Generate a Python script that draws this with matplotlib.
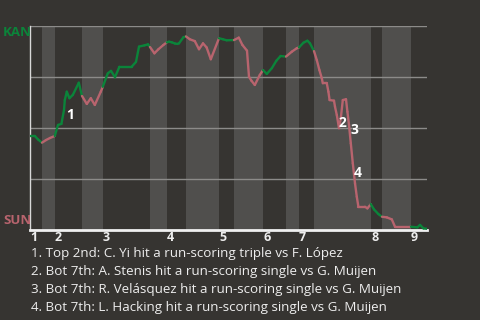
import matplotlib
matplotlib.use("Agg")
import matplotlib.pyplot as plt
from matplotlib.collections import LineCollection
import numpy as np

# ---- data ----
# game progress (arbitrary event units) and KAN win probability (%)
event_x = [0, 2.4, 4.0, 6.0,
           8.0, 10.0, 12.4,
           14.0, 15.7, 17.0, 17.4, 18.4, 19.7, 21.4, 24.4, 26.0,
           28.4, 30.4, 32.4, 35.4, 36.4,
           38.4, 38.9, 40.5, 42.5, 44.7, 50.8, 53.0, 54.5, 57.2, 59.0, 60.0,
           62.2, 64.2, 66.7, 68.4,
           69.5, 70.9, 72.5, 73.7, 74.5, 76.7, 78.0,
           79.9, 82.4, 84.5, 86.5, 88.3, 90.4, 94.5,
           96.5, 98.3, 102.0,
           104.4, 106.2, 108.5, 109.5, 110.7, 112.4, 114.9, 116.5,
           118.4, 120.9, 123.2, 125.3, 128.0,
           130.9, 133.4, 134.5,
           136.7, 138.7, 140.0, 142.0,
           143.4, 144.7, 145.9, 146.4, 148.4, 149.2, 149.8, 152.0, 152.5, 153.4,
           154.5, 155.4, 156.4, 158.0, 158.7, 159.5, 160.4, 161.4, 162.5, 163.4,
           164.2, 167.5, 168.7, 170.4,
           172.0, 174.2, 176.0,
           178.4, 180.9, 182.5, 190.0, 190.5,
           193.7, 195.0, 196.7, 198.5]
win_prob = [46.1, 46.1, 44.4, 42.8,
            44.1, 45.1, 46.1,
            51.5, 52.0, 58.8, 63.7, 67.8, 64.6, 66.2, 72.2, 65.7,
            61.8, 64.6, 61.3, 67.8, 70.2,
            75.5, 76.8, 78.0, 74.9, 80.0, 80.0, 82.4, 89.9, 90.5, 91.0, 89.7,
            86.6, 88.6, 90.7, 92.0,
            92.3, 92.0, 91.4, 91.2, 91.5, 94.5, 94.9,
            93.5, 92.6, 88.6, 91.5, 89.5, 83.7, 94.0,
            93.5, 93.0, 93.1,
            94.3, 90.7, 87.9, 75.1, 73.2, 71.1, 76.0, 78.4,
            76.5, 79.3, 83.0, 85.3, 85.0,
            87.4, 89.1, 89.5,
            91.8, 92.8, 91.5, 87.7,
            83.3, 78.4, 74.4, 71.9, 71.9, 67.8, 63.7, 63.4, 60.4, 56.4,
            49.9, 54.8, 63.7, 64.1, 58.0, 51.5, 42.5, 32.7, 22.9, 16.3,
            11.4, 11.4, 10.6, 12.7,
            10.1, 7.8, 6.5,
            6.2, 5.2, 1.6, 1.6, 1.6,
            1.3, 2.5, 0.8, 0.6]

# half-inning start positions (top 1st ... top 9th, end)
half_starts = [0, 6, 12.5, 26, 36.5, 60, 68.5, 78, 94.5, 102, 116.5,
               128, 134.5, 142, 170.5, 176, 190.5, 198.5]
inning_labels = ["1", "2", "3", "4", "5", "6", "7", "8", "9"]

# annotated plays: (label, x, win prob)
notes_x = [20.0, 156.0, 162.0, 164.0]
notes_y = [56.4, 52.5, 49.0, 27.9]
notes_lbl = ["1", "2", "3", "4"]
footnotes = [
    "1. Top 2nd: C. Yi hit a run-scoring triple vs F. López",
    "2. Bot 7th: A. Stenis hit a run-scoring single vs G. Muijen",
    "3. Bot 7th: R. Velásquez hit a run-scoring single vs G. Muijen",
    "4. Bot 7th: L. Hacking hit a run-scoring single vs G. Muijen",
]
away_team, home_team = "KAN", "SUN"

# ---- style ----
BG = "#363431"
BAND = "#504f4d"
GREEN = "#0b843a"
PINK = "#b8646e"
GRID = "#8c8b89"
TXT = "#eeeeee"
FONT = "Open Sans"

fig = plt.figure(figsize=(4.8, 3.2), dpi=100, facecolor=BG)
ax = fig.add_axes([30/480, 90/320, 397/480, 204/320])
ax.set_facecolor(BG)
ax.set_xlim(half_starts[0], half_starts[-1])
ax.set_ylim(0, 100)

# bottom-half bands
for i in range(1, len(half_starts) - 1, 2):
    ax.axvspan(half_starts[i], half_starts[i + 1], color=BAND, lw=0, zorder=0)

for yv in [25, 50, 75, 100]:
    ax.axhline(yv, color=GRID, lw=1.0, zorder=1)

# line coloured by half-inning
pts = np.column_stack([event_x, win_prob])
segs = np.stack([pts[:-1], pts[1:]], axis=1)
mids = (pts[:-1, 0] + pts[1:, 0]) / 2
idx = np.searchsorted(half_starts, mids, side="right") - 1
cols = [GREEN if k % 2 == 0 else PINK for k in idx]
lc = LineCollection(segs, colors=cols, linewidths=1.7, zorder=3,
                    capstyle="round", joinstyle="round")
ax.add_collection(lc)

for lbl, xx, yy in zip(notes_lbl, notes_x, notes_y):
    ax.text(xx, yy, lbl, color="white", fontsize=10, fontweight="bold",
            ha="center", va="center", family=FONT, zorder=4)

for s in ["top", "right"]:
    ax.spines[s].set_visible(False)
ax.spines["left"].set_color("#d8d8d8")
ax.spines["left"].set_linewidth(1.0)
ax.spines["bottom"].set_color("#f0f0f0")
ax.spines["bottom"].set_linewidth(2.0)
ax.set_yticks([])
ax.set_xticks(half_starts[0:-1:2])
ax.set_xticklabels(inning_labels, color=TXT, fontsize=9, fontweight="bold",
                   family=FONT, ha="left")
ax.tick_params(axis="x", length=0, pad=1)

fig.text(3/480, 1 - 33/320, away_team, color=GREEN, fontsize=9.5,
         fontweight="bold", family=FONT, va="center", ha="left")
fig.text(3/480, 1 - 221/320, home_team, color=PINK, fontsize=9.5,
         fontweight="bold", family=FONT, va="center", ha="left")

for i, t in enumerate(footnotes):
    fig.text(31/480, 1 - (254 + 18 * i)/320, t, color=TXT, fontsize=9.6,
             family=FONT, va="center", ha="left")

fig.savefig("out.png", dpi=100, facecolor=BG)
